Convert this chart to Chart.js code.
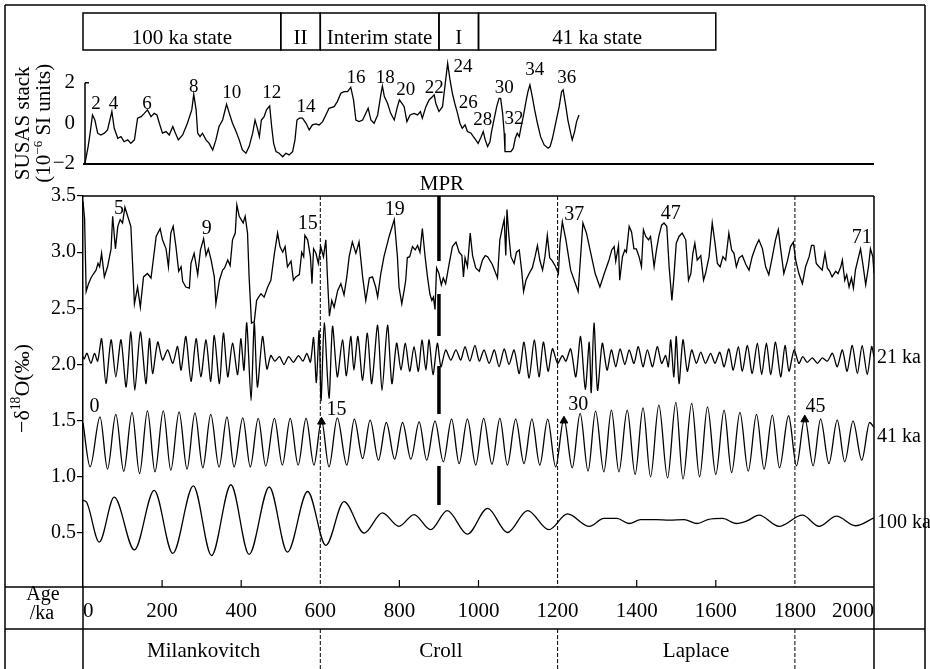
<!DOCTYPE html>
<html lang="en">
<head>
<meta charset="UTF-8">
<title>SUSAS stack and benthic oxygen isotope record</title>
<script src="https://cdn.jsdelivr.net/npm/chart.js"></script>
<style>
  html, body { margin: 0; padding: 0; background: #fff; }
  #wrap { width: 930px; height: 669px; }
</style>
</head>
<body>
<div id="wrap"><canvas id="myChart" width="930" height="669"></canvas></div>
<script>
// ---- data (age in ka) ----

// SUSAS magnetic susceptibility stack (10^-6 SI)
const susAge = [5,13,18,24,30,37,45,54,62,73,
  79,88,96,104,113,121,130,138,147,155,
  163,172,180,187,193,201,210,218,227,232,
  241,252,264,275,280,286,290,296,302,311,
  319,328,336,344,353,363,370,378,387,395,
  403,412,420,429,435,441,446,451,458,464,
  472,477,482,488,496,505,513,521,530,536,
  541,547,555,564,572,580,589,597,606,614,
  622,635,643,652,660,669,677,684,690,698,
  707,715,721,728,736,745,753,757,762,770,
  778,787,795,800,806,812,819,827,837,846,
  853,858,867,875,884,888,892,900,909,915,
  922,928,934,940,947,953,959,966,972,981,
  987,993,999,1006,1012,1017,1023,1029,1033,1040,
  1046,1052,1056,1061,1065,1067,1075,1082,1088,1093,
  1098,1103,1107,1114,1120,1125,1130,1136,1142,1149,
  1157,1166,1176,1181,1187,1195,1204,1210,1214,1221,
  1226,1233,1237,1243,1248,1254];
const susVal = [-1.98,-1.15,-0.49,0.41,0.16,-0.49,-0.58,-0.49,-0.33,0.58,
  -0.25,-0.74,-0.66,-0.91,-0.82,-0.99,-0.82,0.25,0.33,0.49,
  0.66,0.33,0.49,0.41,0,-0.49,-0.41,-0.58,-0.16,-0.41,
  -0.82,-0.58,0,0.66,1.43,0.66,-0.49,-0.66,-0.49,-0.82,
  -0.99,-1.32,-0.82,-0.16,0.16,0.94,0.49,0,-0.41,-0.82,
  -1.32,-1.48,-1.15,-0.49,0.16,-0.25,-0.66,0.16,0.33,0.66,
  0.86,-0.16,-0.99,-1.40,-1.48,-1.65,-1.48,-1.56,-1.40,-0.82,
  0.16,0.25,0.25,0,-0.33,-0.08,-0.03,-0.08,0.08,0.41,
  0.74,0.82,1.07,1.48,1.56,1.56,1.78,1.15,0.16,0.08,
  0.16,0.49,0.74,0.16,0,0.41,1.40,1.84,1.32,0.99,
  0.49,0.16,0.82,1.15,0.99,0.82,0.08,0.41,0.49,0.41,
  0.58,0.25,0.82,1.15,1.32,1.40,0.99,0.58,0.82,1.81,
  2.96,2.14,1.48,0.99,0.49,0,-0.25,-0.08,-0.41,-0.49,
  -0.66,-0.82,-0.99,-0.70,-0.41,-0.82,-1.15,-0.91,-0.41,0.25,
  0.82,1.23,1.23,0.49,-0.49,-1.40,-1.40,-1.40,-1.23,-0.74,
  -0.49,-0.66,-0.25,0.41,1.07,1.56,1.89,1.32,0.66,0,
  -0.66,-1.07,-1.23,-1.15,-0.74,0,0.82,1.56,1.65,0.82,
  0.16,-0.49,-0.82,-0.41,0.08,0.41];

// -d18O record
const d18oAge = [0,4,8,14,20,27,33,38,42,47,
  54,62,71,75,82,88,94,100,106,113,
  121,130,138,145,153,163,172,185,195,201,
  210,216,222,228,235,242,248,252,260,269,
  273,281,290,297,305,311,317,324,332,336,
  345,353,358,366,372,378,385,389,395,400,
  405,410,416,420,426,433,439,444,450,458,
  467,475,484,492,498,505,511,517,526,532,
  538,547,553,558,561,568,575,579,583,589,
  595,601,608,614,618,623,629,635,644,652,
  660,667,673,681,690,698,707,715,724,732,
  740,745,753,761,774,787,795,799,806,812,
  816,820,826,833,840,846,852,858,865,871,
  877,882,886,890,894,900,906,911,917,926,
  934,943,951,958,962,966,972,979,985,993,
  1002,1010,1017,1023,1035,1048,1054,1061,1065,1069,
  1072,1077,1082,1090,1096,1103,1109,1114,1120,1128,
  1136,1143,1149,1155,1162,1168,1174,1180,1187,1195,
  1202,1206,1212,1221,1233,1252,1264,1273,1284,1295,
  1307,1318,1330,1337,1343,1347,1354,1357,1364,1370,
  1374,1381,1387,1393,1399,1406,1412,1417,1423,1430,
  1435,1444,1450,1456,1463,1469,1476,1482,1489,1494,
  1500,1507,1515,1524,1531,1537,1542,1547,1553,1562,
  1569,1574,1583,1591,1598,1604,1611,1618,1625,1633,
  1640,1646,1652,1659,1667,1676,1684,1692,1701,1709,
  1718,1726,1734,1743,1751,1758,1764,1772,1781,1789,
  1796,1802,1810,1819,1827,1836,1842,1848,1854,1861,
  1869,1876,1882,1888,1894,1903,1909,1916,1920,1926,
  1931,1937,1943,1948,1953,1959,1966,1972,1979,1986,
  1991,1997,2000];
const d18oVal = [3.45,3.30,2.65,2.72,2.77,2.81,2.84,2.90,2.87,2.99,
  2.78,2.87,3.03,3.32,3.03,3.23,3.29,3.26,3.40,3.32,
  3.23,2.54,2.69,2.51,2.78,2.81,2.77,3.14,3.21,3.11,
  3.03,2.87,3.17,3.23,3.05,2.83,2.87,2.74,2.69,2.68,
  2.90,2.99,2.80,3.02,3.12,2.97,3.03,2.93,2.78,2.54,
  2.75,2.84,2.86,2.93,2.88,3.11,3.17,3.42,3.32,3.29,
  3.26,3.32,3.17,2.78,2.37,2.38,2.57,2.60,2.63,2.60,
  2.69,2.75,2.99,3.17,3.05,3.00,3.05,2.87,2.92,2.75,
  2.78,2.80,3.00,2.96,3.15,3.11,2.96,2.72,3.03,2.99,
  2.90,3.05,2.96,3.11,2.78,2.43,2.57,2.51,2.66,2.72,
  2.62,2.78,2.96,3.09,2.99,3.09,2.78,2.57,2.77,2.78,
  2.69,2.60,2.81,2.96,3.14,3.29,2.96,2.69,2.54,2.66,
  2.75,2.95,2.96,3.05,3.02,3.06,3.00,3.21,2.96,2.78,
  2.63,2.57,2.60,2.49,2.86,2.81,2.71,2.77,2.72,2.90,
  3.05,3.09,3.00,2.97,2.78,2.95,2.87,3.17,2.97,2.86,
  2.83,2.93,2.97,2.96,2.89,2.77,3.11,3.23,3.29,2.97,
  3.38,3.14,2.96,2.90,3.00,3.02,2.84,2.65,2.75,2.81,
  2.86,2.96,3.06,2.93,2.84,2.96,3.15,2.95,2.92,2.87,
  2.81,3.08,3.27,3.11,2.84,2.65,3.26,3.17,2.99,2.81,
  2.69,2.81,2.93,3.02,3.05,2.92,3.06,2.75,2.96,3.02,
  3.00,3.23,3.18,3.03,3.03,2.96,2.87,3.20,3.14,3.11,
  3.14,2.87,3.02,3.14,3.24,3.26,3.23,2.87,2.57,2.78,
  3.08,3.14,3.17,3.11,2.75,2.81,2.99,3.08,2.93,2.97,
  2.75,2.81,2.96,3.26,3.08,2.90,2.87,2.96,2.93,3.17,
  3.02,2.99,2.87,2.95,2.97,2.89,2.84,2.96,3.05,3.11,
  3.03,2.87,2.80,2.96,3.11,3.20,3.03,2.81,2.92,3.05,
  3.09,2.93,2.81,2.72,2.87,2.96,3.06,3.06,2.90,2.87,
  2.84,2.99,2.86,2.83,2.78,2.83,2.81,2.87,2.93,2.75,
  2.80,2.69,2.77,2.68,2.84,2.93,3.03,2.89,2.71,2.87,
  3.03,2.96,2.81];

// 21 ka (precession) filtered component
const preAge = [0,3,10,20,29,37,47,58,71,83,
  96,109,121,131,145,159,168,176,189,201,
  214,227,239,248,260,273,286,298,311,323,
  332,345,355,366,378,391,399,407,414,425,
  433,441,454,465,475,485,497,508,520,532,
  545,556,566,575,583,590,597,602,610,622,
  631,643,656,666,677,685,695,707,719,730,
  745,756,770,781,793,804,815,826,837,848,
  857,867,875,885,896,905,917,930,943,955,
  966,978,991,1002,1014,1027,1040,1052,1065,1077,
  1090,1103,1115,1128,1141,1153,1164,1176,1187,1200,
  1212,1221,1233,1246,1258,1270,1280,1285,1292,1301,
  1313,1325,1336,1347,1358,1370,1381,1393,1404,1416,
  1427,1440,1452,1463,1473,1480,1486,1494,1500,1507,
  1517,1528,1539,1551,1562,1574,1587,1598,1610,1621,
  1633,1644,1657,1667,1680,1692,1705,1716,1728,1739,
  1751,1764,1775,1785,1798,1810,1820,1831,1844,1857,
  1869,1882,1895,1907,1920,1932,1945,1958,1970,1983,
  1994,2000];
const preVal = [2.07,2.05,2.10,2.01,2.10,2.03,2.23,1.83,2.22,1.89,
  2.22,1.80,2.29,1.77,2.29,1.83,2.23,1.92,2.20,2.04,
  2.13,2.01,2.16,1.95,2.25,1.85,2.23,1.89,2.22,1.85,
  2.26,1.83,2.28,1.89,2.19,1.91,2.23,1.95,2.37,1.68,
  2.37,1.80,2.25,1.96,2.08,2.03,2.07,2.00,2.07,2.02,
  2.08,2.03,2.10,2.02,2.24,1.84,2.30,1.68,2.37,1.70,
  2.34,1.89,2.22,1.90,2.25,1.95,2.25,1.86,2.28,1.83,
  2.35,1.77,2.35,1.83,2.19,1.95,2.19,1.94,2.16,1.94,
  2.22,1.95,2.22,1.91,2.19,1.98,2.13,2.04,2.13,2.04,
  2.16,2.03,2.17,2.03,2.13,2.01,2.13,1.98,2.14,2.00,
  2.13,1.92,2.20,1.88,2.22,1.89,2.20,1.94,2.14,2.01,
  2.08,2.03,2.14,1.89,2.25,1.78,2.20,1.75,2.37,1.77,
  2.19,1.95,2.13,1.98,2.14,2.00,2.13,2.01,2.16,1.98,
  2.13,1.98,2.16,2.01,2.08,1.98,2.22,1.89,2.25,1.83,
  2.22,1.94,2.13,2.01,2.11,2.01,2.10,2.01,2.11,1.98,
  2.14,1.95,2.16,1.94,2.17,1.92,2.19,1.91,2.19,1.91,
  2.20,1.89,2.17,1.94,2.13,2.01,2.07,2.02,2.06,2.01,
  2.06,2.03,2.10,1.98,2.13,1.94,2.17,1.92,2.17,1.91,
  2.16,2.07];

// 41 ka (obliquity) filtered component
const oblAge = [0,18,43,62,83,103,124,143,163,182,
  203,222,243,263,283,303,323,344,364,382,
  404,423,443,462,484,504,524,544,564,584,
  603,622,643,667,686,707,726,747,767,788,
  808,829,850,869,890,911,932,951,972,993,
  1013,1034,1054,1073,1094,1115,1135,1155,1175,1195,
  1216,1237,1257,1277,1296,1317,1336,1355,1376,1396,
  1416,1435,1456,1478,1499,1517,1539,1559,1579,1600,
  1621,1640,1661,1682,1703,1722,1743,1761,1784,1804,
  1825,1846,1865,1886,1907,1926,1947,1969,1989,2000];
const oblVal = [1.48,1.09,1.535,1.07,1.556,1.05,1.574,1.03,1.588,1.045,
  1.588,1.06,1.579,1.07,1.570,1.081,1.556,1.087,1.535,1.089,
  1.526,1.089,1.520,1.096,1.520,1.105,1.520,1.105,1.520,1.105,
  1.505,1.089,1.526,1.105,1.514,1.164,1.505,1.149,1.484,1.158,
  1.484,1.158,1.490,1.149,1.496,1.134,1.514,1.119,1.514,1.105,
  1.520,1.113,1.520,1.105,1.514,1.119,1.514,1.105,1.514,1.089,
  1.520,1.081,1.565,1.051,1.585,1.045,1.594,1.045,1.594,1.022,
  1.615,1.001,1.639,0.992,1.663,0.980,1.654,1.001,1.624,1.022,
  1.594,1.039,1.574,1.051,1.556,1.069,1.550,1.081,1.544,1.099,
  1.526,1.099,1.514,1.119,1.505,1.134,1.496,1.149,1.484,1.44];

// 100 ka (eccentricity) filtered component
const eccAge = [0,8,41,79,130,180,227,279,325,374,
  420,471,517,568,614,660,711,757,799,837,
  879,921,972,1023,1073,1124,1178,1225,1280,1317,
  1350,1381,1410,1450,1482,1520,1553,1580,1617,1652,
  1680,1709,1760,1819,1861,1905,1953,2000];
const eccVal = [0.79,0.78,0.42,0.82,0.35,0.88,0.32,0.92,0.30,0.93,
  0.31,0.91,0.33,0.87,0.39,0.78,0.50,0.68,0.56,0.665,
  0.53,0.70,0.49,0.72,0.505,0.70,0.53,0.67,0.56,0.63,
  0.63,0.585,0.62,0.62,0.615,0.62,0.585,0.62,0.63,0.585,
  0.61,0.66,0.56,0.66,0.56,0.65,0.565,0.635];

// filled markers on the 41 ka curve
const markAge = [603, 1216, 1825];
const markVal = [1.49, 1.50, 1.51];

// Mid-Pleistocene revolution
const mprAge = 900;
const mprTop = 3.5;
const mprBottom = 0.75;

// axis ticks
const xTicks = [0,200,400,600,800,1000,1200,1400,1600,1800,2000];
const yTicks = [0.5,1.0,1.5,2.0,2.5,3.0,3.5];
const susTicks = [-2,0,2];

// state boxes along the top
const stateNames = ['100 ka state','II','Interim state','I','41 ka state'];
const stateStart = [0,500,600,900,1000];
const stateEnd = [500,600,900,1000,1600];

// bottom row regimes
const regimeNames = ['Milankovitch','Croll','Laplace'];
const regimeAges = [305, 905, 1550];
const boundaryAges = [600, 1200, 1800];

// stage numbers
const susLabel = ['2','4','6','8','10','12','14','16','18','20','22','24','26','28','30','32','34','36'];
const susLabelAge = [33,77,162,280,376,477,564,690,764,816,888,961,974,1011,1065,1090,1142,1223];
const susLabelVal = [0.95,0.95,0.95,1.77,1.48,1.48,0.82,2.22,2.22,1.64,1.73,2.80,0.99,0.16,1.73,0.21,2.63,2.22];
const misLabel = ['5','9','15','19','37','47','71'];
const misLabelAge = [91,313,568,788,1242,1486,1969];
const misLabelVal = [3.39,3.21,3.257,3.375,3.33,3.34,3.126];
const oblLabel = ['0','15','30','45'];
const oblLabelAge = [29,641,1252,1852];
const oblLabelVal = [1.624,1.594,1.639,1.624];
const sideLabel = ['21 ka','41 ka','100 ka'];
const sideLabelVal = [2.06,1.356,0.588];

const SERIF = "'Liberation Serif', 'Times New Roman', serif";

function pts(ages, vals) {
  return ages.map((a, i) => ({ x: a, y: vals[i] }));
}

function txt(c, s, x, y, size, align, base) {
  c.font = size + 'px ' + SERIF;
  c.textAlign = align || 'center';
  c.textBaseline = base || 'middle';
  c.fillText(s, x, y);
}

// rotated text with superscripts, centred on (x, y) along the baseline
function richUp(c, parts, x, y, size) {
  c.save();
  c.translate(x, y);
  c.rotate(-Math.PI / 2);
  c.textAlign = 'left';
  c.textBaseline = 'alphabetic';
  let w = 0;
  parts.forEach(p => {
    c.font = (p.sup ? size * 0.62 : size) + 'px ' + SERIF;
    w += c.measureText(p.t).width;
  });
  let cx = -w / 2;
  parts.forEach(p => {
    c.font = (p.sup ? size * 0.62 : size) + 'px ' + SERIF;
    c.fillText(p.t, cx, p.sup ? -size * 0.4 : 0);
    cx += c.measureText(p.t).width;
  });
  c.restore();
}

function hline(c, x1, x2, y) { c.beginPath(); c.moveTo(x1, y); c.lineTo(x2, y); c.stroke(); }
function vline(c, x, y1, y2) { c.beginPath(); c.moveTo(x, y1); c.lineTo(x, y2); c.stroke(); }

const framePlugin = {
  id: 'frame',
  afterDraw(chart) {
    const c = chart.ctx;
    const a = chart.chartArea;
    const xs = chart.scales.x, y = chart.scales.y, ys = chart.scales.ys;
    const px = v => xs.getPixelForValue(v);
    const H = chart.height;
    const rowY = 629;
    c.save();
    c.strokeStyle = '#000';
    c.fillStyle = '#000';

    // outer frame
    c.lineWidth = 1.5;
    vline(c, 5, 5, H);
    vline(c, 925, 5, H);
    hline(c, 5, 925, 5);

    // state boxes
    stateNames.forEach((n, i) => {
      const x1 = px(stateStart[i]), x2 = px(stateEnd[i]);
      c.strokeRect(x1, 13, x2 - x1, 37);
      txt(c, n, (x1 + x2) / 2, 44, 21, 'center', 'alphabetic');
    });

    // main panel frame and table rows
    hline(c, a.left, a.right, y.top);
    vline(c, a.right, y.top, H);
    hline(c, 5, a.right, a.bottom);
    hline(c, 5, 925, rowY);
    vline(c, a.left, a.bottom, H);

    // SUSAS axis line
    vline(c, a.left + 2, ys.getPixelForValue(2), ys.getPixelForValue(-2));
    hline(c, a.left + 2, a.left + 6, ys.getPixelForValue(2));

    // inward x ticks
    c.lineWidth = 1.2;
    xTicks.forEach(v => {
      if (v > 0 && v < 2000 && boundaryAges.indexOf(v) < 0) vline(c, px(v), a.bottom, a.bottom - 7);
    });

    // dashed boundaries
    c.lineWidth = 1;
    c.setLineDash([4, 2]);
    boundaryAges.forEach(v => {
      vline(c, px(v), y.top, a.bottom);
      vline(c, px(v), rowY, H);
    });
    c.setLineDash([]);

    // Age row header
    txt(c, 'Age', 43, 600, 20, 'center', 'alphabetic');
    txt(c, '/ka', 42, 619, 20, 'center', 'alphabetic');

    // regime row
    regimeNames.forEach((n, i) => txt(c, n, px(regimeAges[i]), 657, 21, 'center', 'alphabetic'));

    // axis titles
    richUp(c, [{ t: 'SUSAS stack' }], 29, ys.getPixelForValue(0), 21);
    richUp(c, [{ t: '(10' }, { t: '\u22126', sup: true }, { t: ' SI units)' }], 50, ys.getPixelForValue(0), 21);
    richUp(c, [{ t: '\u2212\u03b4' }, { t: '18', sup: true }, { t: 'O(\u2030)' }], 29, (y.top + y.bottom) / 2 - 3, 22);

    // stage numbers
    susLabel.forEach((s, i) => txt(c, s, px(susLabelAge[i]), ys.getPixelForValue(susLabelVal[i]), 19));
    misLabel.forEach((s, i) => txt(c, s, px(misLabelAge[i]), y.getPixelForValue(misLabelVal[i]), 20));
    oblLabel.forEach((s, i) => txt(c, s, px(oblLabelAge[i]), y.getPixelForValue(oblLabelVal[i]), 20));
    sideLabel.forEach((s, i) => txt(c, s, a.right + 3, y.getPixelForValue(sideLabelVal[i]), 20, 'left'));
    txt(c, 'MPR', px(mprAge) + 3, y.top - 6, 21, 'center', 'alphabetic');

    c.restore();
  }
};

const thin = { borderColor: '#000', borderWidth: 1.3, pointRadius: 0, fill: false };

const ctx = document.getElementById('myChart').getContext('2d');
const myChart = new Chart(ctx, {
  type: 'line',
  data: {
    datasets: [
      Object.assign({ label: 'SUSAS stack', data: pts(susAge, susVal), yAxisID: 'ys', tension: 0 }, thin),
      Object.assign({ label: '-d18O', data: pts(d18oAge, d18oVal), yAxisID: 'y', tension: 0 }, thin),
      Object.assign({ label: '21 ka', data: pts(preAge, preVal), yAxisID: 'y', tension: 0.25 }, thin),
      Object.assign({ label: '41 ka', data: pts(oblAge, oblVal), yAxisID: 'y', cubicInterpolationMode: 'monotone' }, thin),
      Object.assign({ label: '100 ka', data: pts(eccAge, eccVal), yAxisID: 'y', cubicInterpolationMode: 'monotone' }, thin),
      {
        label: 'MPR', data: [{ x: mprAge, y: mprTop }, { x: mprAge, y: mprBottom }], yAxisID: 'y',
        borderColor: '#000', borderWidth: 3.5, pointRadius: 0, borderDash: [65, 33, 42, 30, 48, 52, 40]
      },
      {
        label: 'markers', type: 'scatter', data: pts(markAge, markVal), yAxisID: 'y',
        pointStyle: 'triangle', pointRadius: 4.5, backgroundColor: '#000', borderColor: '#000', showLine: false
      }
    ]
  },
  options: {
    responsive: false,
    animation: false,
    layout: { padding: { top: 55, right: 56, left: 0, bottom: 0 } },
    plugins: { legend: { display: false }, tooltip: { enabled: false } },
    scales: {
      x: {
        type: 'linear', min: 0, max: 2000,
        afterBuildTicks: s => { s.ticks = xTicks.map(v => ({ value: v })); },
        afterFit: s => { s.height = 82; },
        ticks: { align: 'inner', padding: 4, color: '#000', font: { family: SERIF, size: 21 }, maxRotation: 0, autoSkip: false, callback: v => String(v) },
        grid: { display: false },
        border: { display: false }
      },
      y: {
        type: 'linear', position: 'left', stack: 'left', stackWeight: 391,
        min: 0.02, max: 3.5,
        afterBuildTicks: s => { s.ticks = yTicks.map(v => ({ value: v })); },
        afterFit: s => { s.width = 83; },
        ticks: { padding: 1, color: '#000', font: { family: SERIF, size: 20 }, callback: v => v.toFixed(1) },
        grid: { drawOnChartArea: false, drawTicks: true, tickLength: 6, color: '#000', lineWidth: 1.2 },
        border: { display: true, color: '#000', width: 1.5 }
      },
      ys: {
        type: 'linear', position: 'left', stack: 'left', stackWeight: 141,
        min: -3.59, max: 3.37,
        afterBuildTicks: s => { s.ticks = susTicks.map(v => ({ value: v })); },
        afterFit: s => { s.width = 83; },
        ticks: { padding: 8, color: '#000', font: { family: SERIF, size: 21 }, callback: v => (v < 0 ? '\u2212' + Math.abs(v) : String(v)) },
        grid: { drawTicks: false, lineWidth: 2, color: c => (c.tick && c.tick.value === -2 ? '#000' : 'rgba(0,0,0,0)') },
        border: { display: false }
      }
    }
  },
  plugins: [framePlugin]
});
</script>
</body>
</html>
